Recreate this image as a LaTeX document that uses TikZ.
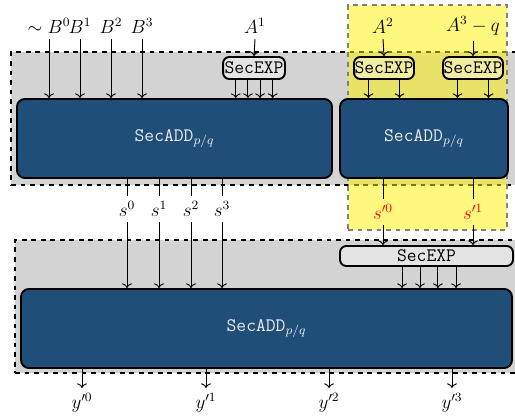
\documentclass[tikz,border=0pt]{standalone}
\usepackage{tikz}
\usetikzlibrary{positioning, fit, arrows.meta}
\definecolor{addblue}{RGB}{31,78,121}
\definecolor{groupgray}{RGB}{211,211,211}

\begin{document}
\begin{tikzpicture}[
  x=0.63pt, y=-0.63pt,
  every node/.style={font=\large},
  group/.style={draw, dashed, thick, fill=groupgray, inner sep=0pt},
  share/.style={draw=gray, dashed, thick, fill=yellow, fill opacity=0.5, inner sep=0pt},
  addbox/.style={draw, very thick, rounded corners=5pt, fill=addblue, text=gray!15, inner sep=0pt, minimum height=49.8pt},
  expbox/.style={draw, very thick, rounded corners=4pt, fill=white, fill opacity=0.4, text opacity=1, inner sep=0pt, minimum height=13.9pt, font=\large\ttfamily},
  wire/.style={->, semithick},
  line/.style={semithick},
]
  \useasboundingbox (0,0) rectangle (515,416);

  % dashed groups
  \node[group, fit={(11,52) (540,185)}] (grpTop) {};
  \node[group, fit={(15,240) (540,373)}] (grpBot) {};
  \node[share, fit={(348,5) (507,230)}] (grpShare) {};

  % adders
  \node[addbox, minimum width=198.5pt] (addA) at (174.5,138.5) {\texttt{SecADD}$_{p/q}$};
  \node[addbox, minimum width=105.8pt] (addB) at (424,138.5) {\texttt{SecADD}$_{p/q}$};
  \node[addbox, minimum width=309.3pt] (addC) at (266.5,328.5) {\texttt{SecADD}$_{p/q}$};

  % exponent boxes
  \node[expbox, minimum width=39pt] (expA) at (254,68) {SecEXP};
  \node[expbox, minimum width=37.8pt] (expB) at (384,68) {SecEXP};
  \node[expbox, minimum width=37.8pt] (expC) at (473,68) {SecEXP};
  \node[expbox, minimum width=109pt, minimum height=12.6pt] (expD) at (426.5,256) {SecEXP};

  % inputs
  \node (B0) at (49,26) {$\sim B^0$};
  \node (B1) at (80,26) {$B^1$};
  \node (B2) at (111,26) {$B^2$};
  \node (B3) at (142,26) {$B^3$};
  \node (A1) at (255,26) {$A^1$};
  \node (A2) at (383,26) {$A^2$};
  \node (A3) at (473,26) {$A^3-q$};

  \foreach \b in {B0,B1,B2,B3}
    \draw[wire] (\b.south) -- (\b.south |- addA.north);
  \draw[wire] (A1.south) -- (expA.north);
  \draw[wire] (A2.south) -- (expB.north);
  \draw[wire] (A3.south) -- (expC.north);

  \foreach \dx in {-11.5,-3.8,3.8,11.8}
    \draw[wire] ([xshift=\dx pt]expA.south) -- ([xshift=\dx pt]expA.south |- addA.north);
  \foreach \dx in {-9.8,9.8} {
    \draw[wire] ([xshift=\dx pt]expB.south) -- ([xshift=\dx pt]expB.south |- addB.north);
    \draw[wire] ([xshift=\dx pt]expC.south) -- ([xshift=\dx pt]expC.south |- addB.north);
  }

  % intermediate shares
  \node (s0) at (127,209) {$s^0$};
  \node (s1) at (159,209) {$s^1$};
  \node (s2) at (191,209) {$s^2$};
  \node (s3) at (222,209) {$s^3$};
  \node[text=red] (t0) at (383,212) {$s'^0$};
  \node[text=red] (t1) at (473,212) {$s'^1$};

  \foreach \s in {s0,s1,s2,s3} {
    \draw[line] (\s |- addA.south) -- (\s.north);
    \draw[wire] (\s.south) -- (\s |- addC.north);
  }
  \foreach \t in {t0,t1} {
    \draw[line] (\t |- addB.south) -- (\t.north);
    \draw[wire] (\t.south) -- (\t |- expD.north);
  }

  \foreach \dx in {-15.4,-4.1,7.2,18.6}
    \draw[wire] ([xshift=\dx pt]expD.south) -- ([xshift=\dx pt]expD.south |- addC.north);

  % outputs
  \node (y0) at (82,403) {$y'^0$};
  \node (y1) at (206,403) {$y'^1$};
  \node (y2) at (329,403) {$y'^2$};
  \node (y3) at (452,403) {$y'^3$};
  \foreach \y in {y0,y1,y2,y3}
    \draw[wire] (\y |- addC.south) -- (\y.north);
\end{tikzpicture}
\end{document}
